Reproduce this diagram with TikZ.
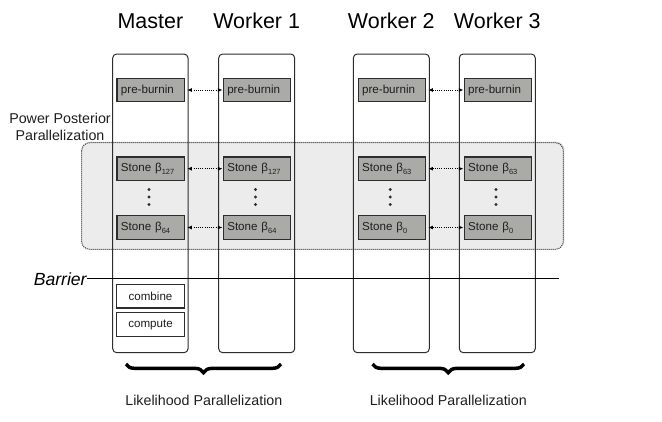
\documentclass[tikz,border=0pt]{standalone}
\usepackage{fontspec}
\setmainfont{Liberation Sans}
\usetikzlibrary{arrows.meta,decorations.pathreplacing,shadows}
\definecolor{boxgray}{RGB}{170,171,167}
\definecolor{edgegray}{RGB}{45,45,45}
\definecolor{regiongray}{RGB}{236,236,236}
\definecolor{textgray}{RGB}{30,30,30}
\newcommand{\betasub}[1]{β\raisebox{-0.5ex}{\fontsize{5.6}{6}\selectfont #1}}
\tikzset{every picture/.style={line width=0.75pt}}
\tikzset{
	title/.style={font=\fontsize{16.1}{19}\selectfont, anchor=base},
	stage/.style={draw=edgegray, line width=1pt, fill=boxgray, minimum width=50.6pt, minimum height=17.6pt, text width=44.6pt, inner xsep=3pt, align=left, font=\fontsize{8.7}{10}\selectfont, text=textgray},
	task/.style={draw=edgegray, line width=1pt, fill=white, minimum width=50.6pt, minimum height=17.6pt, text width=44.6pt, inner xsep=3pt, align=center, font=\fontsize{8.7}{10}\selectfont, text=textgray},
	column/.style={draw=edgegray, rounded corners=3pt},
	link/.style={dash pattern=on 0.75pt off 0.9pt, {Latex[length=3.5pt,width=3pt]}-{Latex[length=3.5pt,width=3pt]}, shorten <=1.5pt},
	label/.style={font=\fontsize{10.7}{12.8}\selectfont, text=textgray, align=center},
	brace/.style={decorate, decoration={brace, mirror, amplitude=6.5pt}, line width=2.6pt}}

\begin{document}
\begin{tikzpicture}[x=0.75pt,y=0.75pt,yscale=-1,xscale=1]
	\useasboundingbox (0,0) rectangle (662,422);

	%Shape: Rounded Rectangle (power posterior region)
	\draw [dash pattern=on 0.75pt off 0.75pt, draw=edgegray, fill=regiongray, rounded corners=6pt, drop shadow={shadow xshift=0.8pt, shadow yshift=0.8pt, opacity=0.25}] (81.7,142.7) rectangle (563.3,249.3) ;

	%Shape: Columns
	\draw [column] (112.7,54) rectangle (188,352.7) ;
	\draw [column] (218.7,54) rectangle (294.7,352.7) ;
	\draw [column] (353.3,54) rectangle (429.3,352.7) ;
	\draw [column] (459.3,54) rectangle (535.3,352.7) ;

	% Text Node
	\node [title] (tmaster) at (150.35,28.3) {Master};
	\node [title] (tworker1) at (256.7,28.3) {Worker 1};
	\node [title] (tworker2) at (391.3,28.3) {Worker 2};
	\node [title] (tworker3) at (497.3,28.3) {Worker 3};

	%Stages: pre-burnin
	\node [stage] (pre0) at (150.7,90) {pre-burnin};
	\node [stage] (pre1) at (257,90) {pre-burnin};
	\node [stage] (pre2) at (391.9,90) {pre-burnin};
	\node [stage] (pre3) at (497.9,90) {pre-burnin};

	%Stages: first stone
	\node [stage] (top0) at (150.7,168.7) {Stone \betasub{127}};
	\node [stage] (top1) at (257,168.7) {Stone \betasub{127}};
	\node [stage] (top2) at (391.9,168.7) {Stone \betasub{63}};
	\node [stage] (top3) at (497.9,168.7) {Stone \betasub{63}};

	%Stages: last stone
	\node [stage] (bot0) at (150.7,227.5) {Stone \betasub{64}};
	\node [stage] (bot1) at (257,227.5) {Stone \betasub{64}};
	\node [stage] (bot2) at (391.9,227.5) {Stone \betasub{0}};
	\node [stage] (bot3) at (497.9,227.5) {Stone \betasub{0}};

	%Vertical dots
	\fill [edgegray] (149,189.5) circle (1.6) (149,197) circle (1.6) (149,204.5) circle (1.6) ;
	\fill [edgegray] (255.5,189.5) circle (1.6) (255.5,197) circle (1.6) (255.5,204.5) circle (1.6) ;
	\fill [edgegray] (390.2,189.5) circle (1.6) (390.2,197) circle (1.6) (390.2,204.5) circle (1.6) ;
	\fill [edgegray] (496,189.5) circle (1.6) (496,197) circle (1.6) (496,204.5) circle (1.6) ;

	%Straight Lines: exchange between pairs
	\draw [link] (pre0) -- (pre1) ;
	\draw [link] (pre2) -- (pre3) ;
	\draw [link] (top0) -- (top1) ;
	\draw [link] (top2) -- (top3) ;
	\draw [link] (bot0) -- (bot1) ;
	\draw [link] (bot2) -- (bot3) ;

	% Text Node
	\node [label] (power) at (60,126.5) {Power Posterior\\Parallelization};

	%Barrier
	\node [font=\fontsize{13.2}{15}\selectfont\itshape, anchor=base west, inner sep=0pt] (barrier) at (33.3,285) {Barrier};
	\coordinate (barrierend) at (559.3,278);
	\draw (barrier.east) -- (barrier.east -| barrierend) ;

	%Stages: master only
	\node [task] (combine) at (150.5,296.3) {combine};
	\node [task] (compute) at (150.5,324.5) {compute};

	%Braces
	\draw [brace] (126,364) -- (281,364) ;
	\draw [brace] (372.5,364) -- (524,364) ;

	% Text Node
	\node [label, anchor=base] (like1) at (203.9,405) {Likelihood Parallelization};
	\node [label, anchor=base] (like2) at (448.3,405) {Likelihood Parallelization};

\end{tikzpicture}
\end{document}
